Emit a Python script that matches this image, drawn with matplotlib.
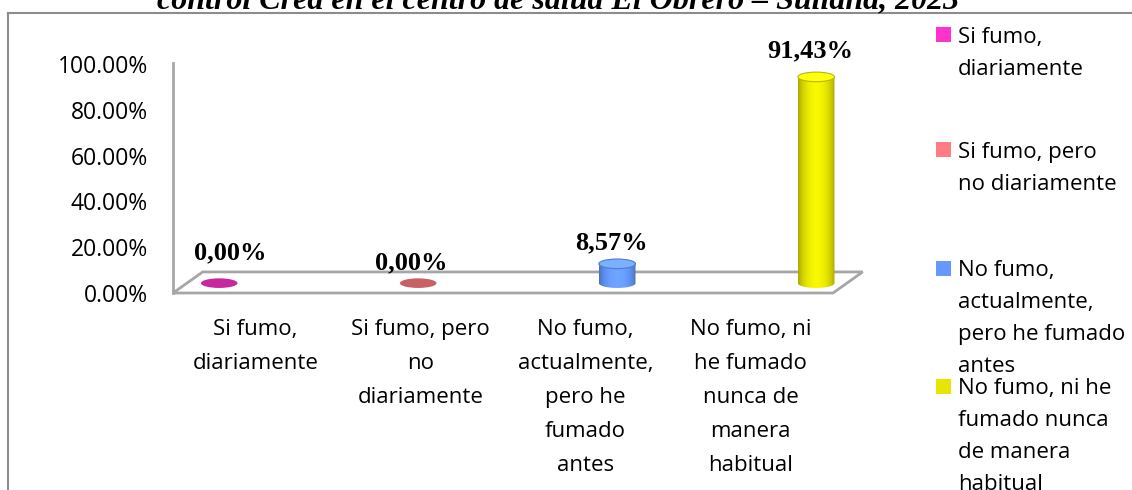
import numpy as np
import matplotlib.pyplot as plt
from matplotlib.patches import Ellipse, Polygon, Rectangle
from matplotlib.lines import Line2D
from matplotlib.colors import to_rgb

# data
categories = ['Si fumo, diariamente', 'Si fumo, pero no diariamente',
              'No fumo, actualmente, pero he fumado antes',
              'No fumo, ni he fumado nunca de manera habitual']
values = [0.00, 0.00, 8.57, 91.43]
tick_labels = ['Si fumo,\ndiariamente', 'Si fumo, pero\nno\ndiariamente',
               'No fumo,\nactualmente,\npero he\nfumado\nantes',
               'No fumo, ni\nhe fumado\nnunca de\nmanera\nhabitual']
legend_labels = ['Si fumo,\ndiariamente', 'Si fumo, pero\nno diariamente',
                 'No fumo,\nactualmente,\npero he fumado\nantes',
                 'No fumo, ni he\nfumado nunca\nde manera\nhabitual']
colors = ['#FF33CC', '#FF7C80', '#6699FF', '#E6E600']
title = 'control Crea en el centro de salud El Obrero \u2013 Sullana, 2023'

W, H = 1132, 490
SANS = ['Open Sans', 'DejaVu Sans']
SERIF = ['Liberation Serif', 'DejaVu Serif']


def draw_cylinder(ax, xc, base, h, w, eh, color):
    rgb = np.array(to_rgb(color))
    if h <= 0:
        ax.add_patch(Ellipse((xc, base), w, eh, facecolor=rgb * 0.78,
                             edgecolor='none', zorder=3, clip_on=False))
        return
    t = np.linspace(0, 1, 80)
    shade = 0.72 + 0.36 * np.sin(np.pi * t) ** 0.7
    img = np.clip(rgb[None, :] * shade[:, None], 0, 1)[None, :, :]
    theta = np.linspace(np.pi, 2 * np.pi, 40)
    bottom = np.column_stack([xc + w / 2 * np.cos(theta), base + eh / 2 * np.sin(theta)])
    verts = np.vstack([bottom, [[xc + w / 2, base + h], [xc - w / 2, base + h]]])
    clip = Polygon(verts, closed=True, transform=ax.transData)
    im = ax.imshow(img, extent=[xc - w / 2, xc + w / 2, base - eh / 2, base + h],
                   aspect='auto', zorder=3, interpolation='bilinear')
    im.set_clip_path(clip)
    ax.add_patch(Ellipse((xc, base + h), w, eh, facecolor=np.clip(rgb * 1.05 + 0.06, 0, 1),
                         edgecolor=rgb * 0.8, lw=0.8, zorder=4))


fig = plt.figure(figsize=(W / 100, H / 100), dpi=100)
fig.patch.set_facecolor('white')

# plot area: front floor edge from x=173 to 833 px, 0% at y=293 px, 100% at 64 px
ax = fig.add_axes([173 / W, 1 - 293 / H, 693 / W, 229 / H])
ax.set_facecolor('none')

x = np.arange(len(categories))
depth_x, depth_y = 0.18, 9.2  # back plane shift in data units

# floor outline and vertical axis
floor = Polygon([[-0.5, 0], [3.5, 0], [3.5 + depth_x, depth_y], [-0.5 + depth_x, depth_y]],
                closed=True, facecolor='none', edgecolor='#a6a6a6', lw=2, zorder=1, clip_on=False)
ax.add_patch(floor)
ax.plot([-0.5, -0.5], [0, 100.5], color='#a6a6a6', lw=2, zorder=1, clip_on=False)

cyl_x = x * 1.206 - 0.22
cyl_base = depth_y / 2 - 0.3
label_nudge = [(11, -30), (-7, -20), (-6, -21), (-6, -26)]
for i, v in enumerate(values):
    draw_cylinder(ax, cyl_x[i], cyl_base, v * 0.985, 0.222, 4.2, colors[i])
    txt = f'{v:.2f}%'.replace('.', ',')
    ax.annotate(txt, (cyl_x[i], cyl_base + v * 0.985), xytext=(label_nudge[i][0] * 0.72, -label_nudge[i][1] * 0.72),
                textcoords='offset points', ha='center', va='center', fontsize=19,
                fontweight='bold', family=SERIF, zorder=5, annotation_clip=False)

ax.set_xlim(-0.5, 3.7)
ax.set_ylim(0, 100)
ax.set_yticks(np.arange(0, 101, 20))
ax.set_yticklabels([f'{t:.2f}%' for t in np.arange(0, 101, 20)], fontsize=16.5, family=SANS)
ax.set_xticks(x)
ax.set_xticklabels(tick_labels, fontsize=16, family=SANS, linespacing=1.8)
ax.tick_params(axis='y', length=0, pad=18)
ax.tick_params(axis='x', length=0, pad=19)
for s in ax.spines.values():
    s.set_visible(False)

# legend drawn by hand to match the layout
legend_y = [35, 150, 268, 386]
for i, lab in enumerate(legend_labels):
    fig.add_artist(Rectangle((936 / W, 1 - (legend_y[i] + 7.5) / H), 15 / W, 15 / H,
                             transform=fig.transFigure, facecolor=colors[i], edgecolor='none'))
    fig.text(958 / W, 1 - (legend_y[i] - 8) / H, lab, ha='left', va='top', fontsize=16,
             family=SANS, linespacing=1.68)

# title, cut at the top like the screenshot
fig.text(558 / W, 1 - 8 / H, title, ha='center', va='baseline', fontsize=23,
         fontweight='bold', style='italic', family=SERIF)

# outer frame
fig.add_artist(Line2D([8 / W, 1], [1 - 13 / H, 1 - 13 / H], transform=fig.transFigure,
                      color='#8c8c8c', lw=1.5))
fig.add_artist(Line2D([8 / W, 8 / W], [1 - 13 / H, 0], transform=fig.transFigure,
                      color='#8c8c8c', lw=1.5))

fig.savefig('out.png', dpi=100)
